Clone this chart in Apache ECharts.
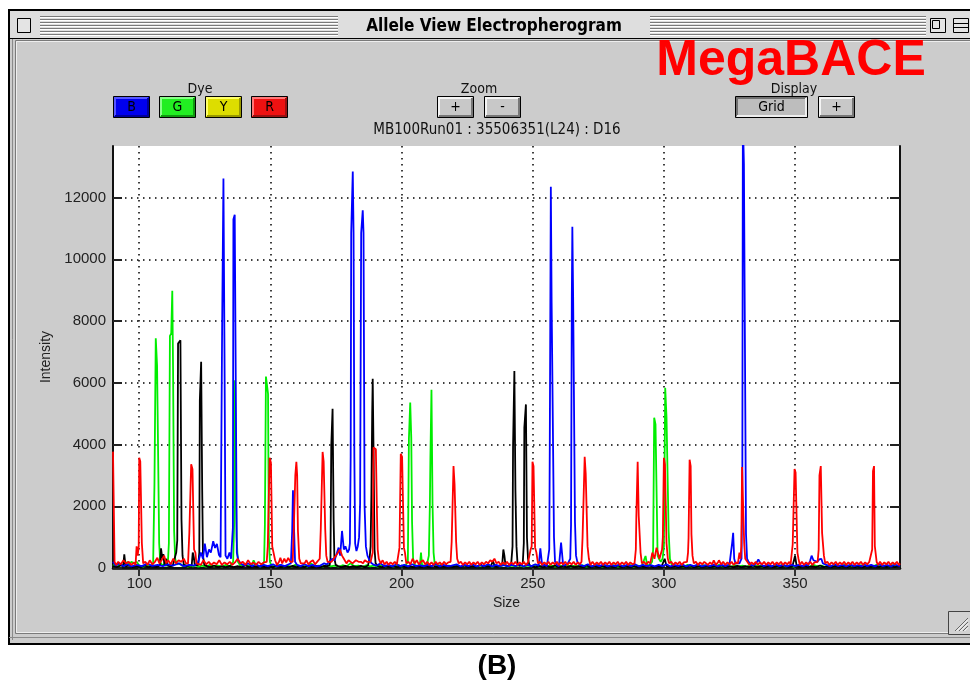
<!DOCTYPE html>
<html><head><meta charset="utf-8">
<script src="https://cdn.jsdelivr.net/npm/echarts@6/dist/echarts.min.js"></script>
<style>html,body{margin:0;padding:0;background:#fff}#c{width:970px;height:683px}</style>
</head><body><div id="c"></div>
<script>
// ---- Data (Size vs Intensity) ----
const xTicks = [100, 150, 200, 250, 300, 350];
const yTicks = [0, 2000, 4000, 6000, 8000, 10000, 12000];
const dyeNames = ['B', 'G', 'Y', 'R'];

const blueTrace = [
[90,200],[91,80],[92.5,150],[94,60],[95.5,120],[97,50],[99,100],[101,60],[103,140],[105,70],[107,100],[109,60],[111,120],[113,80],[115,150],[117,60],[119,100],[121,80],[122.5,200],[123.5,500],[124.3,300],[125,790],[125.8,350],[126.6,600],[127.3,500],[128.2,870],[128.9,650],[129.6,780],[130.4,420],[131.0,350],
[131.3,400],[131.6,7800],[132.1,12620],[132.5,6960],[132.9,400],
[133.6,300],[134.4,500],[135.0,300],
[135.5,300],[135.7,1300],[135.9,11300],[136.4,11440],[136.8,6000],[137.2,500],
[137.8,250],[138.6,150],[140,80],[141.5,150],[143,60],[144.5,120],[146,50],[147.5,100],[149,60],[151,120],[152.5,50],[154,100],[155.5,60],[157,120],
[157.8,150],[158.3,1200],[158.6,2520],[159.0,1300],[159.4,200],
[160.2,100],[161.5,60],[163,120],[164.5,60],[166,100],[167.5,50],[169,80],[170.5,150],[171.5,120],[172.5,200],[173.5,300],[174.5,250],[175.4,500],[176,660],[176.6,400],[177.3,1200],[178,600],[178.6,700],[179.4,500],[180.0,600],
[180.3,800],[180.6,3600],[180.8,10850],[181.4,12840],[181.7,10850],[182.0,3600],[182.3,800],
[182.8,550],[183.3,700],[183.8,1000],
[184.2,2100],[184.6,10850],[185.2,11590],[185.5,10850],[185.9,2000],[186.4,700],
[187,400],[187.8,250],[188.6,150],[189.5,100],[190.5,80],[192,150],[193.5,60],[195,100],[196.5,50],[198,120],[199.5,60],[201,100],[202.5,50],[204,120],[205.5,60],[207,90],[208.5,50],[210,100],[211.5,60],[213,130],[214.5,50],[216,100],[217.5,60],[219,80],[221,120],[222.5,50],[224,100],[225.5,60],[227,120],[228.5,50],[230,90],[231.5,60],[233,120],[234.5,50],[236,100],[237.5,60],[239,90],[240.5,50],[242,100],[243.5,60],[245,120],[246.5,50],[248,100],[249.5,60],[251,120],[252.3,80],
[252.7,100],[252.9,640],[253.3,600],[253.6,80],
[254.5,100],[255.4,60],
[256.0,100],[256.3,600],[256.5,3950],[256.9,12350],[257.2,8600],[257.8,8600],[258.1,1000],[258.5,200],
[259.2,100],[260,60],
[260.6,80],[260.8,820],[261.3,840],[261.6,80],
[262.5,100],[263.4,150],
[264.3,300],[264.6,1400],[264.9,8800],[265.1,11050],[265.4,8800],[265.8,8800],[266.1,1500],[266.5,400],
[267,200],[268,100],[269.5,60],[271,120],[272.5,50],[274,100],[275.5,60],[277,120],[278.5,50],[280,90],[281.5,60],[283,110],[284.5,50],[286,100],[287.5,60],[289,120],[290.5,50],[292,100],[293.5,60],[295,90],[296.5,50],[298,100],[299.5,60],[301,120],[302.5,50],[304,100],[305.5,60],[307,120],[308.5,50],[310,100],[311.5,60],[313,120],[314.5,50],[316,90],[317.5,60],[319,110],[320.5,50],[322,100],[323.5,60],[325,120],
[325.7,100],[326.0,800],[326.4,1140],[326.8,300],[327.3,150],
[328,100],[328.8,150],
[329.6,300],[329.9,3000],[330.1,14500],[330.5,13100],[331.0,13100],[331.3,1100],[331.7,300],
[332.3,200],[333,100],[334,80],[335.2,150],[336,280],[336.8,150],[338,60],[339.5,100],[341,50],[342.5,120],[344,60],[345.5,100],[347,50],[348.5,110],[350,60],[351.5,100],[353,60],[354.2,100],[355,80],[355.8,250],[356.3,400],[357,250],[357.6,280],[358.5,200],[359.2,280],[360,300],[360.6,150],[362,100],[363.5,50],[365,120],[366.5,60],[368,100],[369.5,50],[371,110],[372.5,60],[374,90],[375.5,50],[376.2,120],[377.5,60],[379,100],[380.5,50],[382,120],[383.5,60],[385,100],[386.5,50],[388,110],[390,60]
];

const greenTrace = [
[90,100],[91.5,40],[93,120],[94.5,60],[95.4,200],[96.3,120],[97,200],[98,150],[99,200],[100,80],[101.5,40],[103,100],[104.5,50],
[105.3,150],[105.8,2700],[106.3,7440],[106.8,6550],[107.2,6550],[107.6,800],[108,200],
[108.8,80],[109.6,120],[110.4,60],
[111.0,300],[111.3,800],[111.7,7520],[112.2,7600],[112.6,8980],[112.9,6400],[113.3,1200],[113.7,300],
[114.3,120],[115.5,150],[116.5,60],[117.5,100],[118.5,40],[119.5,80],[120.5,50],[121.5,100],[122.5,40],[124,80],[125.5,40],[127,100],[128.5,50],[130,80],[131.5,40],[133,100],[134.5,50],
[135.8,200],[136.2,1500],[136.5,6080],[136.8,2750],[137.1,1000],[137.6,200],
[138.5,80],[140,120],[141.5,60],[143,100],[143.6,250],[144.5,80],[146,40],[147,100],
[147.6,200],[147.9,1400],[148.3,6200],[148.7,6190],[149.1,5640],[149.4,1000],[149.8,200],
[150.5,80],[152,40],[153.5,100],[155,50],[156.5,80],[158,40],[159.5,100],[161,50],[162.5,80],[164,40],[165.5,150],[167,60],[168.5,80],[170,40],[171.5,100],[173,50],[174.5,80],[176,40],[177.5,90],[179,50],[180.5,150],[182,60],[183.5,80],[185,40],[186.5,90],[188,50],[189.5,80],[191,40],[192.5,100],[194,50],[195.5,80],[197,40],[198.5,100],[200,50],[201.5,80],
[202.4,200],[202.8,4200],[203.3,5360],[203.7,4200],[204.0,1500],[204.4,300],[205,100],
[206,60],[207,100],[207.4,500],[207.8,100],[208.6,80],[209.5,50],
[210.4,400],[210.8,2100],[211.0,3630],[211.4,5770],[211.8,2100],[212.2,500],[212.6,150],
[213.5,60],[215,100],[216.5,40],[218,80],[219.5,50],[221,90],[222.5,40],[224,80],[225.5,50],[227,100],[228.5,40],[230,80],[231.5,50],[233,90],[234.5,40],[236,80],[237.5,50],[239,100],[240.5,40],[242,80],[243.5,50],[245,90],[246.5,40],[248,80],[249.5,50],[251,100],[252.5,40],[254,80],[255.5,50],[257,90],[258.5,40],[260,80],[261.5,50],[263,100],[264.5,40],[266,80],[267.5,50],[269,90],[270.5,40],[272,80],[273.5,50],[275,100],[276.5,40],[278,80],[279.5,50],[281,90],[282.5,40],[284,80],[285.5,50],[287,100],[288.5,40],[290,80],[291.5,50],[293,390],[293.6,100],[294.5,80],
[295.5,200],[295.9,600],[296.3,4870],[296.8,4650],[297.2,4650],[297.6,400],[298.1,300],
[298.8,200],
[299.5,300],[300.0,700],[300.5,5840],[301.0,4870],[301.4,4870],[301.8,1200],[302.3,300],
[303,100],[304.5,50],[306,80],[307.5,40],[309,100],[310.5,50],[312,80],[313.5,40],[315,90],[316.5,50],[318,80],[319.5,40],[321,100],[322.5,50],[324,80],[325.5,40],[327,90],[328.5,50],[330,80],[331.5,40],[333,100],[334.5,50],[336,80],[337.5,40],[339,90],[340.5,50],[342,80],[343.5,40],[345,100],[346.5,50],[348,80],[349.5,40],[351,90],[352.5,50],[354,80],[355.5,40],[357,100],[358.5,50],[360,80],[361.5,40],[363,90],[364.5,50],[366,80],[367.5,40],[369,100],[370.5,50],[372,80],[373.5,40],[375,90],[376.5,50],[378,80],[379.5,40],[381,100],[382.5,50],[384,80],[385.5,40],[387,90],[388.5,50],[390,80]
];

const yellowTrace = [
[90,60],[91.5,30],[93,80],[93.9,50],[94.3,440],[94.8,50],[96,80],[97.5,30],[99,70],[100.5,30],[102,80],[103.5,30],[105,60],[106.5,30],[107.9,80],[108.3,640],[108.8,300],[109.2,450],[109.6,80],[110.2,300],[110.8,80],[111.8,50],[112.8,80],
[113.5,100],[114.1,500],[114.5,900],[114.8,7270],[115.2,7300],[115.7,7380],[116.1,1580],[116.5,400],[117,100],
[118,60],[119,80],[120,80],[120.4,500],[120.8,350],[121.2,80],[121.8,60],
[122.5,100],[122.9,500],[123.1,5430],[123.6,6680],[124.0,2530],[124.3,400],[124.8,100],
[125.8,60],[127,30],[128.5,80],[130,30],[131.5,60],[133,30],[134.5,70],[136,30],[137.5,60],[139,30],[140.5,80],[142,30],[143.5,60],[145,30],[146.5,70],[148,30],[149.5,60],[151,30],[152.5,80],[154,30],[155.5,60],[157,30],[158.5,70],[160,30],[161.5,60],[163,30],[164.5,80],[166,30],[167.5,60],[169,30],[170.5,70],[171.8,60],
[172.6,100],[172.9,300],[173.2,3950],[173.7,5160],[174.1,1580],[174.4,300],[174.9,100],
[175.8,60],[177,30],[178.5,70],[180,30],[181.5,60],[183,30],[184.5,70],[186,30],[187.2,80],
[187.8,300],[188.2,700],[188.5,2400],[188.8,5000],[189.0,6130],[189.3,3900],[189.7,600],[190.1,150],
[191,60],[192.5,30],[194,70],[195.5,30],[197,60],[198.5,30],[200,80],[201.5,30],[203,60],[204.5,30],[206,70],[207.5,30],[209,60],[210.5,30],[212,80],[213.5,30],[215,60],[216.5,30],[218,70],[219.5,30],[221,60],[222.5,30],[224,80],[225.5,30],[227,60],[228.5,30],
[230.2,120],[231,40],[232.5,60],[234,50],[234.8,230],[235.5,60],[236.5,40],[237.5,80],[238.4,150],[238.8,600],[239.2,400],[239.6,100],[240.5,50],[241.2,80],
[241.8,150],[242.3,700],[242.5,3950],[243.0,6380],[243.4,2520],[243.8,700],[244.2,150],
[245,60],[245.6,100],
[246.2,150],[246.6,800],[246.8,4550],[247.4,5300],[247.8,980],[248.2,300],[248.7,100],
[249.5,60],[251,30],[252.5,70],[254,30],[255.5,60],[257,30],[258.5,80],[260,30],[261.5,60],[263,30],[264.5,70],[266,30],[267.5,60],[269,30],[270.5,80],[272,30],[273.5,60],[275,30],[276.5,70],[278,30],[279.5,60],[281,30],[282.5,80],[284,30],[285.5,60],[287,30],[288.5,70],[290,30],[291.5,60],[293,30],[294.5,80],[296,30],[297.5,60],[299,30],[300.3,300],[301,60],[302.5,30],[304,70],[305.5,30],[307,60],[308.5,30],[310,80],[311.5,30],[313,60],[314.5,30],[316,70],[317.5,30],[319,60],[320.5,30],[322,80],[323.5,30],[325,60],[326.5,30],[328,70],[329.5,30],[331,60],[332.5,30],[334,80],[335.5,30],[337,60],[338.5,30],[340,70],[341.5,30],[343,60],[344.5,30],[346,80],[347.5,30],[349,60],[350,400],[350.6,60],[352,30],[353.5,70],[355,30],[356.5,60],[358,30],[359.5,80],[361,30],[362.5,60],[364,30],[365.5,70],[367,30],[368.5,60],[370,30],[371.5,80],[373,30],[374.5,60],[376,30],[377.5,70],[379,30],[380.5,60],[382,30],[383.5,80],[385,30],[386.5,60],[388,30],[390,60]
];

const redTrace = [
[90.0,3770],[90.3,2000],[90.6,200],[91.2,100],[92,200],[93,120],[94,250],[95,150],[96,200],[97,100],[98,180],
[98.6,100],[99.0,700],[99.4,400],[99.8,700],[100.0,3570],[100.4,3450],[100.8,3450],[101.0,800],[101.5,150],
[102.3,200],[103.2,100],[104,250],[105,120],[106,200],[106.9,330],[107.7,150],[108.5,250],[109.5,400],[110.3,150],[111,250],[112,120],[113,300],[114,150],[115,250],[116,200],[117,300],[117.8,150],
[118.6,150],[119.1,1140],[119.5,1200],[119.8,3360],[120.3,3200],[120.7,3200],[120.9,600],[121.4,500],[121.8,150],
[122.5,200],[123.5,100],[124.5,250],[125.5,120],[126.5,200],[127.5,100],[128.5,180],[129.5,120],[130.5,250],[131.5,100],[132.5,180],[133.5,120],[134.5,200],[135.5,100],[136.5,180],[137.5,300],[138.5,150],[139.5,200],[140.5,100],[141.5,250],[142.5,120],[143.5,180],[144.5,100],[145.5,200],[146.5,120],[147.5,180],[148.2,150],
[148.6,200],[149.0,710],[149.5,700],[149.7,3570],[150.2,3410],[150.5,3410],[150.7,700],[151.2,500],[151.8,250],[152.5,100],
[153.3,200],[153.8,330],[154.5,150],[155.3,300],[156,180],[156.8,330],[157.6,200],[158.1,150],
[158.5,200],[158.9,1200],[159.5,3000],[159.9,3440],[160.2,3000],[160.5,1200],[161,300],[161.6,150],
[162.3,200],[163,150],[163.7,250],[164.5,120],[165.3,200],[166.2,250],[167,120],[167.8,200],[168.4,150],
[168.8,300],[169.2,1250],[169.6,1300],[169.9,3760],[170.3,3450],[170.6,3450],[170.9,1250],[171.3,400],[171.8,200],
[172.5,150],[173.3,200],[174,200],[175,400],[175.8,500],[176.5,600],[177.3,400],[178,300],[179,150],[179.8,250],[180.5,200],[181.3,150],[182,150],[182.6,250],[183,300],[183.6,200],[184.5,200],[185.3,150],[186,250],[186.8,200],[187.5,150],[188.2,200],
[188.6,200],[189.0,500],[189.3,3900],[189.8,3850],[190.2,3850],[190.6,1880],[190.9,600],[191.3,300],[192,150],
[192.8,250],[193.5,120],[194.3,200],[195,100],[195.8,180],[196.6,120],[197.4,200],[198.2,120],
[198.8,150],[199.2,660],[199.7,3700],[200.2,3600],[200.5,3600],[200.9,660],[201.3,500],[201.8,150],
[202.6,200],[203.4,120],[204.2,300],[205,150],[205.8,250],[206.6,120],[207.4,200],[208.2,250],[209,120],[209.8,200],[210.6,100],[211.4,180],[212.2,100],[213,200],[213.8,120],[214.6,180],[215.4,100],[216.2,200],[217,120],[217.8,180],[218.3,120],
[218.7,200],[219.1,850],[219.5,900],[219.8,3300],[220.2,2710],[220.5,2710],[220.8,850],[221.2,300],[221.8,150],
[222.6,200],[223.4,100],[224.2,180],[225,120],[225.8,200],[226.6,100],[227.4,180],[228.2,120],[229,200],[229.8,100],[230.6,180],[231.4,120],[232.2,200],[233,150],[233.8,250],[234.6,200],[235.4,300],[236.2,150],[237,200],[237.8,100],[238.6,180],[239.4,120],[240.2,200],[241,100],[241.8,180],[242.6,120],[243.4,200],[244.2,100],[245,180],[245.8,120],[246.6,200],[247.4,100],[248.2,180],
[248.8,200],[249.2,600],[249.6,700],[249.9,3440],[250.3,3300],[250.6,3300],[250.9,660],[251.4,500],[252,150],
[252.8,200],[253.6,100],[254.4,180],[255.2,120],[256,200],[256.8,100],[257.6,180],[258.4,120],[259.2,200],[260,100],[260.8,180],[261.6,120],[262.4,200],[263.2,100],[264,180],[264.8,120],[265.6,200],[266.4,100],[267.2,180],[268,120],
[268.6,200],[269.0,1000],[269.4,1000],[269.8,3600],[270.2,3040],[270.6,3040],[270.9,700],[271.4,300],[272,100],
[272.8,200],[273.6,100],[274.4,180],[275.2,120],[276,200],[276.8,100],[277.6,180],[278.4,120],[279.2,200],[280,100],[280.8,180],[281.6,120],[282.4,200],[283.2,100],[284,180],[284.8,120],[285.6,200],[286.4,100],[287.2,180],[288,120],
[288.8,150],[289.3,600],[289.5,1690],[290.0,3440],[290.4,1690],[290.8,1690],[291.1,500],[291.6,150],
[292.4,200],[293.2,120],[294,200],[294.8,150],[295.6,500],[296.4,300],[297.2,660],[297.8,660],[298.3,300],
[298.8,250],[299.3,600],[299.6,1000],[300.0,3570],[300.4,3360],[300.7,3360],[301.0,800],[301.5,300],[302,150],
[302.8,200],[303.6,100],[304.4,180],[305.2,120],[306,200],[306.8,100],[307.6,180],[308.3,120],
[308.8,200],[309.2,500],[309.4,980],[309.8,3510],[310.2,3300],[310.5,1090],[310.9,400],[311.4,150],
[312.2,200],[313,100],[313.8,180],[314.6,120],[315.4,200],[316,250],[316.8,100],[317.6,180],[318.4,120],[319,250],[319.8,100],[320.6,180],[321,250],[321.8,120],[322.6,200],[323.4,100],[324.2,180],[325,120],[325.8,200],[326.6,100],[327.4,180],[328.2,150],[328.8,500],
[329.2,300],[329.5,700],[329.8,3270],[330.3,3270],[330.6,800],[331,300],
[331.8,200],[332.6,100],[333.4,180],[334.2,120],[335,200],[335.8,100],[336.6,180],[337.4,120],[338.2,200],[339,100],[339.8,180],[340.6,120],[341.4,200],[342.2,100],[343,180],[343.8,120],[344.6,200],[345.4,100],[346.2,180],[347,120],[347.8,200],[348.3,120],
[348.7,150],[349.1,770],[349.4,770],[349.8,3210],[350.2,3090],[350.6,3090],[350.9,500],[351.3,300],[351.8,100],
[352.6,200],[353.4,100],[354.2,180],[355,120],[355.8,200],[356.6,100],[357.4,180],[358.1,120],
[358.6,200],[359.0,600],[359.3,3000],[359.8,3300],[360.3,1140],[360.7,1140],[361.0,400],[361.5,150],
[362.3,200],[363.1,100],[363.9,180],[364.7,120],[365.5,200],[366.3,100],[367.1,180],[367.9,120],[368.7,200],[369.5,100],[370.3,180],[371.1,120],[371.9,200],[372.7,100],[373.5,180],[374.3,120],[375.1,200],[375.9,100],[376.7,180],[377.5,120],[378.3,200],
[379.0,150],[379.4,600],[379.7,3140],[380.1,3300],[380.4,710],[380.8,710],[381.1,200],[381.6,100],
[382.4,200],[383.2,100],[384,180],[384.8,120],[385.6,200],[386.4,100],[387.2,180],[388,120],[388.8,200],[389.6,100],[390,150]
];

// ---- Styling / layout ----
const SANS = '"Liberation Sans", Arial, Helvetica, sans-serif';
const COND = '"DejaVu Sans Condensed", "Liberation Sans Narrow", "DejaVu Sans", sans-serif';
const dotted = { color: '#000', width: 1.5, type: [1.5, 4.5] };

const g = [];
// window body
g.push({ type: 'rect', z: -10, shape: { x: 9, y: 10, width: 975, height: 634 }, style: { fill: '#cccccc', stroke: '#000', lineWidth: 2 } });
// title bar
g.push({ type: 'rect', z: -9, shape: { x: 10, y: 11, width: 970, height: 27 }, style: { fill: '#dedede' } });
g.push({ type: 'line', z: -8, shape: { x1: 9, y1: 38.5, x2: 975, y2: 38.5 }, style: { stroke: '#000', lineWidth: 1 } });
for (let i = 0; i < 7; i++) {
  const y = 16.5 + i * 3;
  [[40, 338], [650, 926]].forEach(function (s) {
    g.push({ type: 'line', z: -8, shape: { x1: s[0], y1: y, x2: s[1], y2: y }, style: { stroke: '#7a7a7a', lineWidth: 1 } });
    g.push({ type: 'line', z: -8, shape: { x1: s[0], y1: y + 1, x2: s[1], y2: y + 1 }, style: { stroke: '#ffffff', lineWidth: 1 } });
  });
}
// close box and zoom boxes
g.push({ type: 'rect', z: -7, shape: { x: 17.5, y: 18.5, width: 13, height: 14 }, style: { fill: '#e4e4e4', stroke: '#000', lineWidth: 1 } });
g.push({ type: 'rect', z: -7, shape: { x: 930.5, y: 18.5, width: 15, height: 14 }, style: { fill: '#e4e4e4', stroke: '#000', lineWidth: 1 } });
g.push({ type: 'rect', z: -6, shape: { x: 932.5, y: 20.5, width: 7, height: 8 }, style: { fill: 'none', stroke: '#000', lineWidth: 1 } });
g.push({ type: 'rect', z: -7, shape: { x: 953.5, y: 18.5, width: 15, height: 14 }, style: { fill: '#e4e4e4', stroke: '#000', lineWidth: 1 } });
g.push({ type: 'line', z: -6, shape: { x1: 953.5, y1: 23.5, x2: 968.5, y2: 23.5 }, style: { stroke: '#000', lineWidth: 1 } });
g.push({ type: 'line', z: -6, shape: { x1: 953.5, y1: 27.5, x2: 968.5, y2: 27.5 }, style: { stroke: '#000', lineWidth: 1 } });
g.push({ type: 'text', z: 5, style: { text: 'Allele View Electropherogram', x: 494, y: 27, align: 'center', verticalAlign: 'middle', fontFamily: COND, fontWeight: 'bold', fontSize: 17, fill: '#000' } });
// content bevel
g.push({ type: 'rect', z: -8, shape: { x: 15.5, y: 40.5, width: 970, height: 593 }, style: { fill: 'none', stroke: '#7a7a7a', lineWidth: 1 } });
g.push({ type: 'rect', z: -8, shape: { x: 16.5, y: 41.5, width: 970, height: 591 }, style: { fill: 'none', stroke: '#eeeeee', lineWidth: 1 } });
g.push({ type: 'line', z: -8, shape: { x1: 12.5, y1: 39, x2: 12.5, y2: 640 }, style: { stroke: '#8a8a8a', lineWidth: 1 } });
g.push({ type: 'line', z: -8, shape: { x1: 9, y1: 637.5, x2: 975, y2: 637.5 }, style: { stroke: '#8a8a8a', lineWidth: 1 } });
// resize box
g.push({ type: 'rect', z: -6, shape: { x: 948.5, y: 611.5, width: 24, height: 23 }, style: { fill: '#d2d2d2', stroke: '#444', lineWidth: 1 } });
[[955, 631, 968, 618], [959, 631, 968, 622], [963, 631, 968, 626]].forEach(function (l) {
  g.push({ type: 'line', z: -5, shape: { x1: l[0], y1: l[1], x2: l[2], y2: l[3] }, style: { stroke: '#666', lineWidth: 1 } });
  g.push({ type: 'line', z: -5, shape: { x1: l[0] + 1.5, y1: l[1], x2: l[2], y2: l[3] + 1.5 }, style: { stroke: '#fff', lineWidth: 1 } });
});
// MegaBACE
g.push({ type: 'text', z: 5, style: { text: 'MegaBACE', x: 791, y: 61, align: 'center', verticalAlign: 'middle', fontFamily: SANS, fontWeight: 'bold', fontSize: 50, fill: '#ff0000' } });
// group labels
[['Dye', 200], ['Zoom', 479], ['Display', 794]].forEach(function (t) {
  g.push({ type: 'text', z: 5, style: { text: t[0], x: t[1], y: 89, align: 'center', verticalAlign: 'middle', fontFamily: COND, fontSize: 14, fill: '#111' } });
});
function button(x, w, label, fill, light, dark, pressed) {
  const y = 96, h = 21;
  g.push({ type: 'rect', z: 1, shape: { x: x + 0.5, y: y + 0.5, width: w, height: h }, style: { fill: fill, stroke: '#000', lineWidth: 1 } });
  g.push({ type: 'polyline', z: 2, shape: { points: [[x + 2, y + h - 1], [x + 2, y + 2], [x + w - 1, y + 2]] }, style: { stroke: pressed ? dark : light, lineWidth: 2, fill: 'none' } });
  g.push({ type: 'polyline', z: 2, shape: { points: [[x + 2, y + h - 1], [x + w - 1, y + h - 1], [x + w - 1, y + 2]] }, style: { stroke: pressed ? light : dark, lineWidth: 2, fill: 'none' } });
  g.push({ type: 'text', z: 3, style: { text: label, x: x + w / 2 + 0.5, y: y + h / 2 + 1, align: 'center', verticalAlign: 'middle', fontFamily: COND, fontSize: 14, fill: '#000' } });
}
const dyeFill = { B: ['#0000ee', '#5555ff', '#00009a'], G: ['#22ee22', '#88ff88', '#119911'], Y: ['#dddd00', '#ffff66', '#999900'], R: ['#ee1111', '#ff7777', '#991111'] };
[113, 159, 205, 251].forEach(function (x, i) {
  const d = dyeFill[dyeNames[i]];
  button(x, 36, dyeNames[i], d[0], d[1], d[2], false);
});
button(437, 36, '+', '#c8c8c8', '#f4f4f4', '#777', false);
button(484, 36, '-', '#c8c8c8', '#f4f4f4', '#777', false);
button(735, 72, 'Grid', '#bdbdbd', '#eeeeee', '#707070', true);
button(818, 36, '+', '#c8c8c8', '#f4f4f4', '#777', false);
// run id
g.push({ type: 'text', z: 5, style: { text: 'MB100Run01 : 35506351(L24) : D16', x: 497, y: 130, align: 'center', verticalAlign: 'middle', fontFamily: COND, fontSize: 15, fill: '#111' } });
// caption
g.push({ type: 'text', z: 5, style: { text: '(B)', x: 497, y: 666, align: 'center', verticalAlign: 'middle', fontFamily: SANS, fontWeight: 'bold', fontSize: 28, fill: '#000' } });

const chart = echarts.init(document.getElementById('c'), null, { renderer: 'canvas' });
const lineSeries = function (name, data, color, z) {
  return { name: name, type: 'line', data: data, xAxisIndex: 0, yAxisIndex: 0, symbol: 'none', showSymbol: false, clip: true, z: z,
    lineStyle: { color: color, width: 1.8 }, itemStyle: { color: color }, emphasis: { disabled: true }, silent: true };
};
const plain = function (v) { return String(v); };
chart.setOption({
  animation: false,
  backgroundColor: '#ffffff',
  graphic: { elements: g },
  grid: { left: 113, top: 146, width: 787, height: 422, show: true, backgroundColor: '#ffffff', borderWidth: 0, z: 0 },
  xAxis: [
    { type: 'value', min: 90, max: 390, position: 'bottom',
      axisLine: { show: true, onZero: false, lineStyle: { color: '#000', width: 2.5 } },
      axisTick: { show: false, customValues: xTicks },
      axisLabel: { customValues: xTicks, formatter: plain, fontFamily: SANS, fontSize: 15, color: '#222', margin: 8 },
      splitLine: { show: true, lineStyle: dotted },
      name: 'Size', nameLocation: 'middle', nameGap: 26, nameTextStyle: { fontFamily: SANS, fontSize: 14, color: '#222' } },
    { type: 'value', min: 90, max: 390, position: 'top',
      axisLine: { show: true, lineStyle: { color: '#111', width: 2 } },
      axisTick: { show: true, inside: true, length: 8, customValues: xTicks, lineStyle: { color: '#333', width: 2 } },
      axisLabel: { show: false }, splitLine: { show: false } }
  ],
  yAxis: [
    { type: 'value', min: 0, max: 13670, position: 'left',
      axisLine: { show: true, onZero: false, lineStyle: { color: '#111', width: 2 } },
      axisTick: { show: true, inside: true, length: 9, customValues: yTicks, lineStyle: { color: '#222', width: 2 } },
      axisLabel: { customValues: yTicks, formatter: plain, fontFamily: SANS, fontSize: 15, color: '#222', margin: 7 },
      splitLine: { show: true, lineStyle: dotted },
      name: 'Intensity', nameLocation: 'middle', nameGap: 58, nameRotate: 90, nameTextStyle: { fontFamily: SANS, fontSize: 14, color: '#222' } },
    { type: 'value', min: 0, max: 13670, position: 'right',
      axisLine: { show: true, onZero: false, lineStyle: { color: '#111', width: 2 } },
      axisTick: { show: true, inside: true, length: 10, customValues: yTicks, lineStyle: { color: '#222', width: 2 } },
      axisLabel: { show: false }, splitLine: { show: false } }
  ],
  series: [
    lineSeries('G', greenTrace, '#00ee00', 3),
    lineSeries('Y', yellowTrace, '#000000', 4),
    lineSeries('B', blueTrace, '#0000ff', 5),
    lineSeries('R', redTrace, '#ff0000', 6)
  ]
});
</script></body></html>
